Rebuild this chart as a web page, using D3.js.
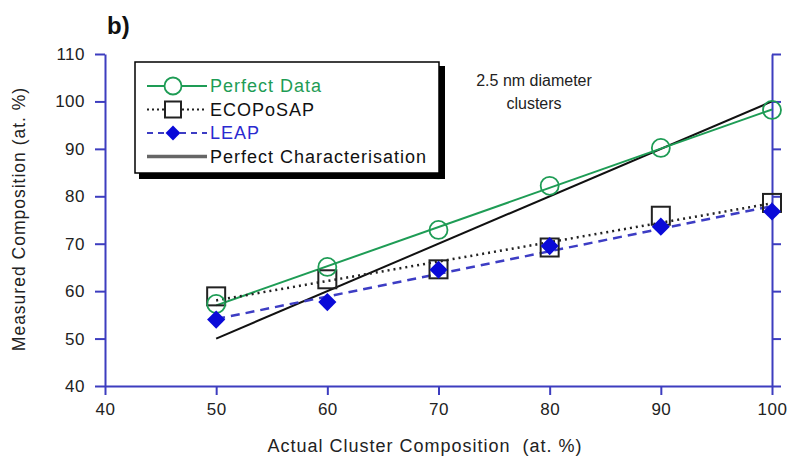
<!DOCTYPE html>
<html>
<head>
<meta charset="utf-8">
<style>
body { margin: 0; background: #fff; }
text { font-family: "Liberation Sans", Arial, sans-serif; }
.axis .domain { stroke: #3d3dbf; stroke-width: 2; }
.axis .tick line { stroke: #3d3dbf; stroke-width: 2; }
.axis .tick text { fill: #222; font-size: 17px; letter-spacing: 0.5px; }
</style>
</head>
<body>
<svg width="788" height="457"></svg>
<script src="https://d3js.org/d3.v7.min.js"></script>
<script>

// data
var actual = [50, 60, 70, 80, 90, 100];
var perfectData = [57.3, 65.1, 72.9, 82.2, 90.2, 98.2];
var ecoposap = [58.9, 62.5, 64.6, 69.2, 75.9, 78.6];
var leap = [54.0, 57.7, 64.5, 69.5, 73.6, 76.8];
var perfectChar = [50, 100];
var xTicks = [40, 50, 60, 70, 80, 90, 100];
var yTicks = [40, 50, 60, 70, 80, 90, 100, 110];
var legendNames = ["Perfect Data", "ECOPoSAP", "LEAP", "Perfect Characterisation"];

var svg = d3.select("svg"),
    margin = {top: 54, right: 16, bottom: 71, left: 105},
    width = 788 - margin.left - margin.right,
    height = 457 - margin.top - margin.bottom,
    g = svg.append("g").attr("transform", "translate(" + margin.left + "," + margin.top + ")");

var x = d3.scaleLinear().domain([40, 100]).range([0, width]);
var y = d3.scaleLinear().domain([40, 110]).range([height, 0]);

// least squares fit, used for the trend lines
function fit(xs, ys) {
  var mx = d3.mean(xs), my = d3.mean(ys), sxy = 0, sxx = 0;
  xs.forEach(function(v, i) { sxy += (v - mx) * (ys[i] - my); sxx += (v - mx) * (v - mx); });
  var b = sxy / sxx, a = my - b * mx;
  return [[50, a + b * 50], [100, a + b * 100]];
}

var line = d3.line().x(function(d) { return x(d[0]); }).y(function(d) { return y(d[1]); });

// axes
g.append("g")
    .attr("class", "axis")
    .attr("transform", "translate(0," + height + ")")
    .call(d3.axisBottom(x).tickValues(xTicks).tickSize(9).tickSizeOuter(0).tickPadding(8));

g.append("g")
    .attr("class", "axis")
    .call(d3.axisLeft(y).tickValues(yTicks).tickSize(10).tickSizeOuter(0).tickPadding(10));

g.append("g")
    .attr("class", "axis")
    .attr("transform", "translate(" + width + ",0)")
    .call(d3.axisRight(y).tickValues(yTicks).tickSize(9).tickSizeOuter(0).tickFormat(""));

// lines
var series = [
  {name: "Perfect Characterisation", pts: perfectChar.map(function(v) { return [v, v]; }), color: "#111", dash: null, w: 2},
  {name: "Perfect Data", pts: fit(actual, perfectData), color: "#1e9c55", dash: null, w: 2},
  {name: "ECOPoSAP", pts: fit(actual, ecoposap), color: "#222", dash: "2,4", w: 2.5},
  {name: "LEAP", pts: fit(actual, leap), color: "#3d3dc4", dash: "9,6", w: 2.5}
];

g.selectAll(".trend")
  .data(series)
  .enter().append("path")
    .attr("class", "trend")
    .attr("d", function(d) { return line(d.pts); })
    .attr("fill", "none")
    .attr("stroke", function(d) { return d.color; })
    .attr("stroke-width", function(d) { return d.w; })
    .attr("stroke-dasharray", function(d) { return d.dash; });

// markers
var diamond = d3.symbol().type(d3.symbolDiamond2).size(210);

g.selectAll(".sq")
  .data(actual)
  .enter().append("rect")
    .attr("class", "sq")
    .attr("x", function(d) { return x(d) - 9; })
    .attr("y", function(d, i) { return y(ecoposap[i]) - 9; })
    .attr("width", 18).attr("height", 18)
    .attr("fill", "none").attr("stroke", "#222").attr("stroke-width", 2);

g.selectAll(".circ")
  .data(actual)
  .enter().append("circle")
    .attr("class", "circ")
    .attr("cx", function(d) { return x(d); })
    .attr("cy", function(d, i) { return y(perfectData[i]); })
    .attr("r", 9)
    .attr("fill", "none").attr("stroke", "#1e9c55").attr("stroke-width", 1.8);

g.selectAll(".dia")
  .data(actual)
  .enter().append("path")
    .attr("class", "dia")
    .attr("transform", function(d, i) { return "translate(" + x(d) + "," + y(leap[i]) + ")"; })
    .attr("d", diamond)
    .attr("fill", "#0a0ad8");

// axis titles
svg.append("text")
    .attr("x", 425).attr("y", 452)
    .attr("text-anchor", "middle")
    .style("font-size", "18px").style("letter-spacing", "1px").attr("fill", "#222")
    .text("Actual Cluster Composition\u00a0 (at. %)");

svg.append("text")
    .attr("transform", "translate(25,219) rotate(-90)")
    .attr("text-anchor", "middle")
    .style("font-size", "17.5px").style("letter-spacing", "1px").attr("fill", "#222")
    .text("Measured Composition (at. %)");

svg.append("text")
    .attr("x", 107).attr("y", 34)
    .style("font-size", "24px").style("font-weight", "bold").attr("fill", "#111")
    .text("b)");

// annotation
var note = svg.append("text")
    .attr("text-anchor", "middle")
    .style("font-size", "16px").attr("fill", "#222");
note.append("tspan").attr("x", 534).attr("y", 86).text("2.5 nm diameter");
note.append("tspan").attr("x", 534).attr("y", 109).text("clusters");

// legend
var lg = svg.append("g").attr("transform", "translate(135,62)");
lg.append("rect").attr("x", 4).attr("y", 4).attr("width", 306).attr("height", 113).attr("fill", "#000");
lg.append("rect").attr("width", 304).attr("height", 111)
    .attr("fill", "#fff").attr("stroke", "#000").attr("stroke-width", 1.5);

var legendStyle = [
  {color: "#1e9c55", dash: null, text: "#1e9c55", w: 2},
  {color: "#222", dash: "2,3", text: "#111", w: 2},
  {color: "#3d3dc4", dash: "6,5", text: "#2a2ad0", w: 2},
  {color: "#666", dash: null, text: "#111", w: 3.5}
];

var items = lg.selectAll(".item")
  .data(legendNames)
  .enter().append("g")
    .attr("class", "item")
    .attr("transform", function(d, i) { return "translate(0," + (24 + i * 23.5) + ")"; });

items.append("line")
    .attr("x1", 12).attr("x2", 72)
    .attr("stroke", function(d, i) { return legendStyle[i].color; })
    .attr("stroke-width", function(d, i) { return legendStyle[i].w; })
    .attr("stroke-dasharray", function(d, i) { return legendStyle[i].dash; });

items.append("text")
    .attr("x", 75).attr("dy", "0.36em")
    .style("font-size", "18px").style("letter-spacing", "1px")
    .attr("fill", function(d, i) { return legendStyle[i].text; })
    .text(function(d) { return d; });

items.filter(function(d, i) { return i === 0; }).append("circle")
    .attr("cx", 38).attr("r", 8.5).attr("fill", "#fff").attr("stroke", "#1e9c55").attr("stroke-width", 1.8);
items.filter(function(d, i) { return i === 1; }).append("rect")
    .attr("x", 30).attr("y", -8).attr("width", 16).attr("height", 16)
    .attr("fill", "#fff").attr("stroke", "#222").attr("stroke-width", 2);
items.filter(function(d, i) { return i === 2; }).append("path")
    .attr("transform", "translate(38,0)")
    .attr("d", d3.symbol().type(d3.symbolDiamond2).size(140))
    .attr("fill", "#0a0ad8");

</script>
</body>
</html>
